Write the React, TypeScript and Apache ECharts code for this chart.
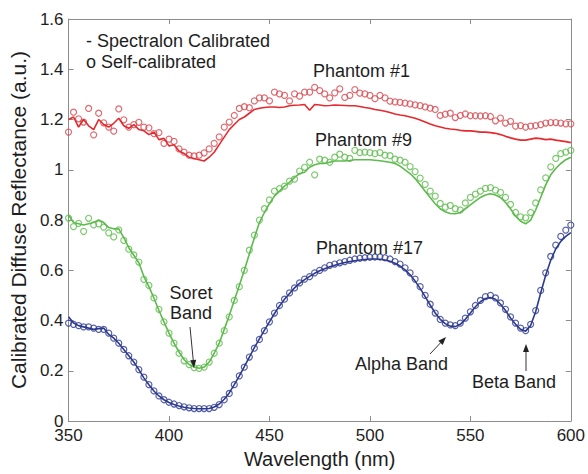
import React, { useEffect, useRef } from "react";
import * as echarts from "echarts";

const wavelengths = [
  350, 352.5, 355, 357.5, 360, 362.5, 365, 367.5, 370, 372.5,
  375, 377.5, 380, 382.5, 385, 387.5, 390, 392.5, 395, 397.5,
  400, 402.5, 405, 407.5, 410, 412.5, 415, 417.5, 420, 422.5,
  425, 427.5, 430, 432.5, 435, 437.5, 440, 442.5, 445, 447.5,
  450, 452.5, 455, 457.5, 460, 462.5, 465, 467.5, 470, 472.5,
  475, 477.5, 480, 482.5, 485, 487.5, 490, 492.5, 495, 497.5,
  500, 502.5, 505, 507.5, 510, 512.5, 515, 517.5, 520, 522.5,
  525, 527.5, 530, 532.5, 535, 537.5, 540, 542.5, 545, 547.5,
  550, 552.5, 555, 557.5, 560, 562.5, 565, 567.5, 570, 572.5,
  575, 577.5, 580, 582.5, 585, 587.5, 590, 592.5, 595, 597.5,
  600,
];

// Phantom #1 (red)
const p1Line = [
  1.2, 1.21, 1.17, 1.2, 1.175, 1.16, 1.2, 1.18, 1.17, 1.185,
  1.205, 1.175, 1.165, 1.18, 1.16, 1.155, 1.14, 1.15, 1.12, 1.125,
  1.095, 1.1, 1.075, 1.065, 1.05, 1.045, 1.04, 1.035, 1.05, 1.07,
  1.1, 1.13, 1.16, 1.18, 1.2, 1.21, 1.225, 1.24, 1.245, 1.248,
  1.25, 1.25, 1.248, 1.25, 1.255, 1.257, 1.258, 1.26, 1.237, 1.26,
  1.258, 1.255, 1.256, 1.258, 1.257, 1.256, 1.255, 1.255, 1.252, 1.248,
  1.245, 1.24, 1.237, 1.233, 1.228, 1.222, 1.218, 1.215, 1.21, 1.205,
  1.198, 1.19, 1.182, 1.175, 1.17, 1.165, 1.162, 1.16, 1.157, 1.155,
  1.155, 1.153, 1.15, 1.15, 1.148, 1.145, 1.14, 1.133, 1.127, 1.122,
  1.118, 1.118, 1.122, 1.126, 1.124, 1.12, 1.122, 1.118, 1.115, 1.112,
  1.108,
];
const p1Self = [
  1.15, 1.229, 1.203, 1.19, 1.244, 1.139, 1.225, 1.187, 1.17, 1.154,
  1.242, 1.199, 1.17, 1.18, 1.189, 1.17, 1.167, 1.144, 1.148, 1.105,
  1.122, 1.113, 1.083, 1.07, 1.058, 1.055, 1.058, 1.067, 1.083, 1.105,
  1.131, 1.17, 1.19, 1.216, 1.244, 1.251, 1.247, 1.274, 1.286, 1.286,
  1.274, 1.309, 1.302, 1.296, 1.274, 1.302, 1.293, 1.309, 1.309, 1.328,
  1.315, 1.302, 1.286, 1.306, 1.322, 1.288, 1.296, 1.319, 1.305, 1.302,
  1.296, 1.283, 1.296, 1.286, 1.273, 1.27, 1.268, 1.265, 1.262, 1.258,
  1.255, 1.25, 1.245, 1.24, 1.216, 1.221, 1.225, 1.208, 1.216, 1.222,
  1.215, 1.215, 1.214, 1.215, 1.212, 1.195, 1.206, 1.186, 1.193, 1.174,
  1.176, 1.17, 1.174, 1.176, 1.18, 1.186, 1.188, 1.188, 1.186, 1.183,
  1.183,
];

// Phantom #9 (green)
const p9Line = [
  0.82, 0.79, 0.785, 0.78, 0.785, 0.79, 0.8, 0.79, 0.77, 0.765,
  0.765, 0.73, 0.69, 0.66, 0.63, 0.575, 0.535, 0.49, 0.44, 0.395,
  0.35, 0.31, 0.275, 0.245, 0.225, 0.215, 0.21, 0.215, 0.235, 0.27,
  0.31, 0.365, 0.42, 0.48, 0.54, 0.6, 0.665, 0.73, 0.79, 0.83,
  0.865, 0.895, 0.915, 0.935, 0.95, 0.97, 0.985, 0.99, 1.01, 1.02,
  1.025, 1.025, 1.03, 1.035, 1.035, 1.035, 1.037, 1.04, 1.04, 1.04,
  1.04, 1.038, 1.036, 1.033, 1.03, 1.025, 1.015, 1.0, 0.985, 0.965,
  0.94, 0.915, 0.89, 0.865, 0.845, 0.833, 0.826, 0.825, 0.83, 0.845,
  0.86, 0.875, 0.89, 0.9, 0.905, 0.9, 0.89, 0.87, 0.845, 0.815,
  0.795, 0.785, 0.8, 0.84, 0.89, 0.94, 0.98, 1.005, 1.025, 1.04,
  1.05,
];
const p9Self = [
  0.808, 0.774, 0.787, 0.755, 0.807, 0.781, 0.785, 0.772, 0.749, 0.733,
  0.761, 0.719, 0.684, 0.661, 0.633, 0.564, 0.54, 0.49, 0.445, 0.395,
  0.35, 0.31, 0.27, 0.24, 0.225, 0.213, 0.21, 0.215, 0.235, 0.27,
  0.31, 0.36, 0.415, 0.48, 0.535, 0.6, 0.68, 0.74, 0.8, 0.845,
  0.88, 0.915, 0.925, 0.935, 0.955, 0.963, 0.995, 1.01, 1.03, 0.98,
  1.042, 1.038, 1.03, 1.05, 1.062, 1.05, 1.045, 1.077, 1.068, 1.07,
  1.068, 1.064, 1.068, 1.058, 1.056, 1.042, 1.038, 1.03, 1.013, 0.993,
  0.967, 0.942, 0.915, 0.895, 0.866, 0.851, 0.858, 0.845, 0.84, 0.868,
  0.89, 0.903, 0.915, 0.926, 0.929, 0.919, 0.91, 0.89, 0.862, 0.83,
  0.813, 0.809, 0.83, 0.868, 0.92, 0.968, 1.012, 1.045, 1.064, 1.07,
  1.077,
];

// Phantom #17 (blue)
const p17Line = [
  0.415, 0.39, 0.38, 0.375, 0.37, 0.365, 0.368, 0.37, 0.345, 0.33,
  0.31, 0.285, 0.26, 0.235, 0.205, 0.172, 0.145, 0.12, 0.1, 0.085,
  0.074, 0.066, 0.06, 0.055, 0.052, 0.05, 0.049, 0.049, 0.05, 0.056,
  0.068, 0.087, 0.112, 0.145, 0.18, 0.217, 0.255, 0.292, 0.327, 0.362,
  0.395, 0.428, 0.458, 0.485, 0.508, 0.53, 0.548, 0.563, 0.576, 0.588,
  0.598, 0.606, 0.614, 0.62, 0.626, 0.631, 0.635, 0.638, 0.641, 0.643,
  0.645, 0.645, 0.644, 0.641, 0.636, 0.628, 0.617, 0.602, 0.582, 0.557,
  0.528, 0.495, 0.462, 0.43, 0.405, 0.388, 0.378, 0.376, 0.385, 0.405,
  0.43, 0.455, 0.475, 0.488, 0.492, 0.485, 0.465, 0.44, 0.41, 0.385,
  0.365, 0.358, 0.38, 0.435, 0.51, 0.58, 0.64, 0.685, 0.715, 0.735,
  0.75,
];
const p17Self = [
  0.39, 0.385, 0.38, 0.375, 0.375, 0.37, 0.365, 0.365, 0.35, 0.33,
  0.31, 0.285, 0.26, 0.235, 0.205, 0.175, 0.145, 0.12, 0.1, 0.085,
  0.075, 0.068, 0.062, 0.057, 0.053, 0.05, 0.05, 0.05, 0.05, 0.055,
  0.066, 0.085, 0.11, 0.145, 0.18, 0.215, 0.255, 0.29, 0.325, 0.36,
  0.395, 0.43, 0.46, 0.485, 0.51, 0.53, 0.55, 0.565, 0.575, 0.59,
  0.6, 0.61, 0.62, 0.625, 0.63, 0.635, 0.64, 0.645, 0.648, 0.65,
  0.652, 0.653, 0.653, 0.65, 0.645, 0.635, 0.625, 0.61, 0.59, 0.565,
  0.535, 0.5, 0.465, 0.43, 0.405, 0.39, 0.383, 0.38, 0.39, 0.41,
  0.435, 0.46, 0.48, 0.495, 0.5, 0.49, 0.47, 0.445, 0.415, 0.39,
  0.37, 0.36, 0.385, 0.44, 0.52, 0.59, 0.655, 0.7, 0.735, 0.76,
  0.78,
];

const xTicks = { min: 350, max: 600, interval: 50 };
const yTicks = { min: 0, max: 1.6, interval: 0.2 };

const FONT = "'Liberation Sans', Arial, Helvetica, sans-serif";
const RED_LINE = "#e42a2f";
const RED_DOT = "#d8474f";
const GREEN = "#5dbb4c";
const BLUE = "#2d3a8f";
const AXIS = "#8c8c8c";
const TEXT = "#1e1e1e";

const pairs = (vals: number[]) => wavelengths.map((w, i) => [w, vals[i]]);

export default function App() {
  const ref = useRef<HTMLDivElement>(null);
  useEffect(() => {
    if (!ref.current) return;
    const chart = echarts.init(ref.current, null, { renderer: "svg" });
    const lineSeries = (name: string, vals: number[], color: string) => ({
      name,
      type: "line",
      data: pairs(vals),
      showSymbol: false,
      symbol: "none",
      lineStyle: { color, width: 1.6 },
      z: 3,
    });
    const dotSeries = (name: string, vals: number[], color: string) => ({
      name,
      type: "scatter",
      data: pairs(vals),
      symbol: "circle",
      symbolSize: 6,
      itemStyle: { color: "rgba(255,255,255,0)", borderColor: color, borderWidth: 1.2 },
      z: 2,
    });
    const txt = (text: string, x: number, y: number, align = "center", size = 18) => ({
      type: "text",
      x,
      y,
      style: {
        text,
        fontSize: size,
        fontFamily: FONT,
        fill: TEXT,
        align,
        verticalAlign: "middle",
      },
      z: 10,
    });
    const arrow = (x1: number, y1: number, x2: number, y2: number) => {
      const dx = x2 - x1;
      const dy = y2 - y1;
      const len = Math.sqrt(dx * dx + dy * dy);
      const ux = dx / len;
      const uy = dy / len;
      const bx = x2 - ux * 8;
      const by = y2 - uy * 8;
      const px = -uy * 3;
      const py = ux * 3;
      return [
        {
          type: "line",
          shape: { x1, y1, x2: bx, y2: by },
          style: { stroke: "#333", lineWidth: 1 },
          z: 10,
        },
        {
          type: "polygon",
          shape: { points: [[x2, y2], [bx + px, by + py], [bx - px, by - py]] },
          style: { fill: "#222" },
          z: 10,
        },
      ];
    };
    const axisCommon = {
      type: "value",
      axisLine: { show: true, onZero: false, lineStyle: { color: AXIS, width: 1 } },
      axisTick: { show: true, inside: true, length: 5, lineStyle: { color: AXIS } },
      splitLine: { show: false },
    };
    chart.setOption({
      animation: false,
      backgroundColor: "#ffffff",
      grid: { left: 64, right: 15, top: 19, bottom: 42 },
      xAxis: [
        {
          ...axisCommon,
          ...xTicks,
          position: "bottom",
          axisLabel: { fontSize: 17, color: TEXT, fontFamily: FONT, margin: 6 },
          name: "Wavelength (nm)",
          nameLocation: "middle",
          nameGap: 21,
          nameTextStyle: { fontSize: 20, color: TEXT, fontFamily: FONT },
        },
        {
          ...axisCommon,
          ...xTicks,
          position: "top",
          axisLabel: { show: false },
        },
      ],
      yAxis: [
        {
          ...axisCommon,
          ...yTicks,
          position: "left",
          axisLabel: { fontSize: 17, color: TEXT, fontFamily: FONT, margin: 5 },
          name: "Calibrated Diffuse Reflectance (a.u.)",
          nameLocation: "middle",
          nameGap: 32,
          nameTextStyle: { fontSize: 21, color: TEXT, fontFamily: FONT },
        },
        {
          ...axisCommon,
          ...yTicks,
          position: "right",
          axisLabel: { show: false },
        },
      ],
      series: [
        dotSeries("Phantom #1 self", p1Self, RED_DOT),
        lineSeries("Phantom #1 spectralon", p1Line, RED_LINE),
        dotSeries("Phantom #9 self", p9Self, GREEN),
        lineSeries("Phantom #9 spectralon", p9Line, GREEN),
        dotSeries("Phantom #17 self", p17Self, BLUE),
        lineSeries("Phantom #17 spectralon", p17Line, BLUE),
      ],
      graphic: [
        txt("- Spectralon Calibrated", 86, 41, "left"),
        txt("o Self-calibrated", 86, 62, "left"),
        txt("Phantom #1", 313, 71, "left"),
        txt("Phantom #9", 315, 140, "left"),
        txt("Phantom #17", 316, 248, "left"),
        txt("Soret", 191, 293),
        txt("Band", 191, 313),
        txt("Alpha Band", 355, 364, "left"),
        txt("Beta Band", 472, 382, "left"),
        ...arrow(190, 327, 194, 368),
        ...arrow(430, 354, 446, 337),
        ...arrow(526, 371, 526, 344),
      ],
    });
    return () => chart.dispose();
  }, []);
  return <div ref={ref} style={{ width: 588, height: 474, position: "absolute", left: 0, top: 0 }} />;
}
